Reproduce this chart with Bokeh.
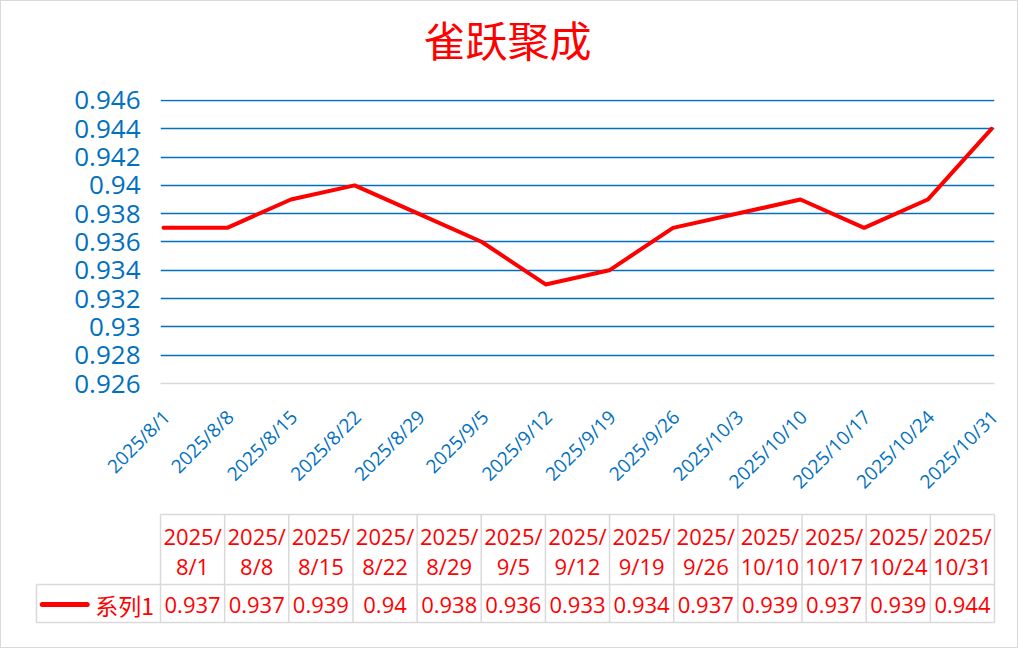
import math
from bokeh.plotting import figure
from bokeh.layouts import column
from bokeh.models import Range1d, FixedTicker, PrintfTickFormatter, ColumnDataSource, LinearAxis
from bokeh.core.properties import value
from bokeh.embed import file_html
from bokeh.resources import INLINE

# ---------------- data ----------------
title_text = "雀跃聚成"
series_name = "系列1"
axis_dates = ["2025/8/1", "2025/8/8", "2025/8/15", "2025/8/22", "2025/8/29",
              "2025/9/5", "2025/9/12", "2025/9/19", "2025/9/26", "2025/10/3",
              "2025/10/10", "2025/10/17", "2025/10/24", "2025/10/31"]
data_dates = ["2025/8/1", "2025/8/8", "2025/8/15", "2025/8/22", "2025/8/29",
              "2025/9/5", "2025/9/12", "2025/9/19", "2025/9/26",
              "2025/10/10", "2025/10/17", "2025/10/24", "2025/10/31"]
data_values = [0.937, 0.937, 0.939, 0.94, 0.938, 0.936, 0.933, 0.934, 0.937,
               0.939, 0.937, 0.939, 0.944]
y_ticks = [0.926, 0.928, 0.93, 0.932, 0.934, 0.936, 0.938, 0.94, 0.942, 0.944, 0.946]

# ---------------- style ----------------
RED = "#FF0000"
BLUE = "#0070C0"
GRAY = "#D9D9D9"
NUM_FONT = "Open Sans"
CJK_FONT = "Noto Sans CJK SC"
W = 1016

# ---------------- title strip ----------------
TH = 72
head = figure(width=W, height=TH, x_range=Range1d(0, 1), y_range=Range1d(0, 1),
              output_backend="svg", toolbar_location=None,
              x_axis_location=None, y_axis_location=None,
              min_border_left=159, min_border_right=W - 993,
              min_border_top=TH - 2, min_border_bottom=0)
head.frame_align = False
head.background_fill_color = "white"
head.border_fill_color = "white"
head.outline_line_color = None
head.xgrid.visible = False
head.ygrid.visible = False
head.title.text = title_text
head.title.text_color = RED
head.title.text_font = CJK_FONT
head.title.text_font_size = "42px"
head.title.text_font_style = "normal"
head.title.align = "left"
head.title.offset = 263
head.title.standoff = 6

# ---------------- chart ----------------
n_ax = len(axis_dates) - 1
frame_w = 994 - 160
pad = 3 * n_ax / (frame_w - 6)          # 3px inset of the first/last point
lab_shift = pad * 0.98                   # small right shift of the rotated labels

p = figure(width=W, height=505 - TH,
           x_range=Range1d(-pad, n_ax + pad),
           y_range=Range1d(y_ticks[0], y_ticks[-1] + 0.00007),
           output_backend="svg", toolbar_location=None,
           x_axis_location=None,
           min_border_left=159, min_border_right=W - 993,
           min_border_top=98 - TH, min_border_bottom=117)
p.frame_align = False
p.background_fill_color = "white"
p.border_fill_color = "white"
p.outline_line_color = None

xs = [axis_dates.index(d) for d in data_dates]
src = ColumnDataSource(dict(x=xs, y=data_values))
p.line("x", "y", source=src, line_color=RED, line_width=4, line_join="round", line_cap="round")

p.xgrid.visible = False
p.ygrid.ticker = FixedTicker(ticks=y_ticks[1:])
p.ygrid.grid_line_color = BLUE
p.ygrid.grid_line_width = 1.3

ya = p.yaxis[0]
ya.ticker = FixedTicker(ticks=y_ticks)
ya.formatter = PrintfTickFormatter(format="%g")
ya.axis_line_color = None
ya.major_tick_line_color = None
ya.minor_tick_line_color = None
ya.major_tick_out = 0
ya.major_tick_in = 0
ya.major_label_standoff = 20
ya.major_label_text_color = BLUE
ya.major_label_text_font = NUM_FONT
ya.major_label_text_font_size = "26px"

p.extra_x_ranges = {"lab": Range1d(-pad - lab_shift, n_ax + pad - lab_shift)}
xa = LinearAxis(x_range_name="lab")
xa.ticker = FixedTicker(ticks=list(range(len(axis_dates))))
xa.major_label_overrides = {i: d for i, d in enumerate(axis_dates)}
xa.major_label_orientation = math.pi / 4
xa.axis_line_color = GRAY
xa.axis_line_width = 1.5
xa.major_tick_line_color = None
xa.minor_tick_line_color = None
xa.major_tick_out = 0
xa.major_tick_in = 0
xa.major_label_standoff = 30
xa.major_label_text_color = BLUE
xa.major_label_text_font = NUM_FONT
xa.major_label_text_font_size = "19px"
p.add_layout(xa, "below")

# ---------------- data table ----------------
n = len(data_dates)
col_px = 834 / n                 # pixel width of a table column
tbl_left_px = 160                # page x of first data column
frame_l_px, frame_r_px = 34, 996
leg_left = (36 - tbl_left_px) / col_px

t = figure(width=W, height=141,
           x_range=Range1d((frame_l_px - tbl_left_px) / col_px, (frame_r_px - tbl_left_px) / col_px),
           y_range=Range1d(112, -2),
           output_backend="svg", toolbar_location=None,
           x_axis_location=None, y_axis_location=None,
           min_border_left=frame_l_px - 1, min_border_right=W - (frame_r_px - 1),
           min_border_top=6, min_border_bottom=21)
t.frame_align = False
t.background_fill_color = "white"
t.border_fill_color = "white"
t.outline_line_color = None
t.xgrid.visible = False
t.ygrid.visible = False

row_top, row_mid, row_bot = 0, 70, 108
# horizontal lines
t.segment(x0=[0, leg_left, leg_left], y0=[row_top, row_mid, row_bot],
          x1=[n, n, n], y1=[row_top, row_mid, row_bot],
          line_color=GRAY, line_width=1.5)
# vertical lines
t.segment(x0=list(range(n + 1)) + [leg_left], y0=[row_top] * (n + 1) + [row_mid],
          x1=list(range(n + 1)) + [leg_left], y1=[row_bot] * (n + 2),
          line_color=GRAY, line_width=1.5)

centers = [i + 0.5 for i in range(n)]
line1 = [d.split("/", 1)[0] + "/" for d in data_dates]
line2 = [d.split("/", 1)[1] for d in data_dates]
t.text(x=centers, y=[21] * n, text=line1, text_color=RED, text_align="center",
       text_baseline="alphabetic", text_font=value(NUM_FONT), text_font_size="22px")
t.text(x=centers, y=[51.5] * n, text=line2, text_color=RED, text_align="center",
       text_baseline="alphabetic", text_font=value(NUM_FONT), text_font_size="22px")
t.text(x=centers, y=[90] * n, text=[f"{v:g}" for v in data_values], text_color=RED,
       text_align="center", text_baseline="alphabetic",
       text_font=value(NUM_FONT), text_font_size="22px")

# legend key
t.segment(x0=[leg_left + 0.09], y0=[90], x1=[leg_left + 0.79], y1=[90],
          line_color=RED, line_width=5, line_cap="round")
t.text(x=[-0.1], y=[90], text=[series_name], text_color=RED, text_align="right",
       text_baseline="alphabetic", text_font=value(CJK_FONT), text_font_size="23px")

layout = column(head, p, t, spacing=0, styles={"border": "1px solid #D9D9D9"})
open("out.html", "w").write(file_html(layout, INLINE))
